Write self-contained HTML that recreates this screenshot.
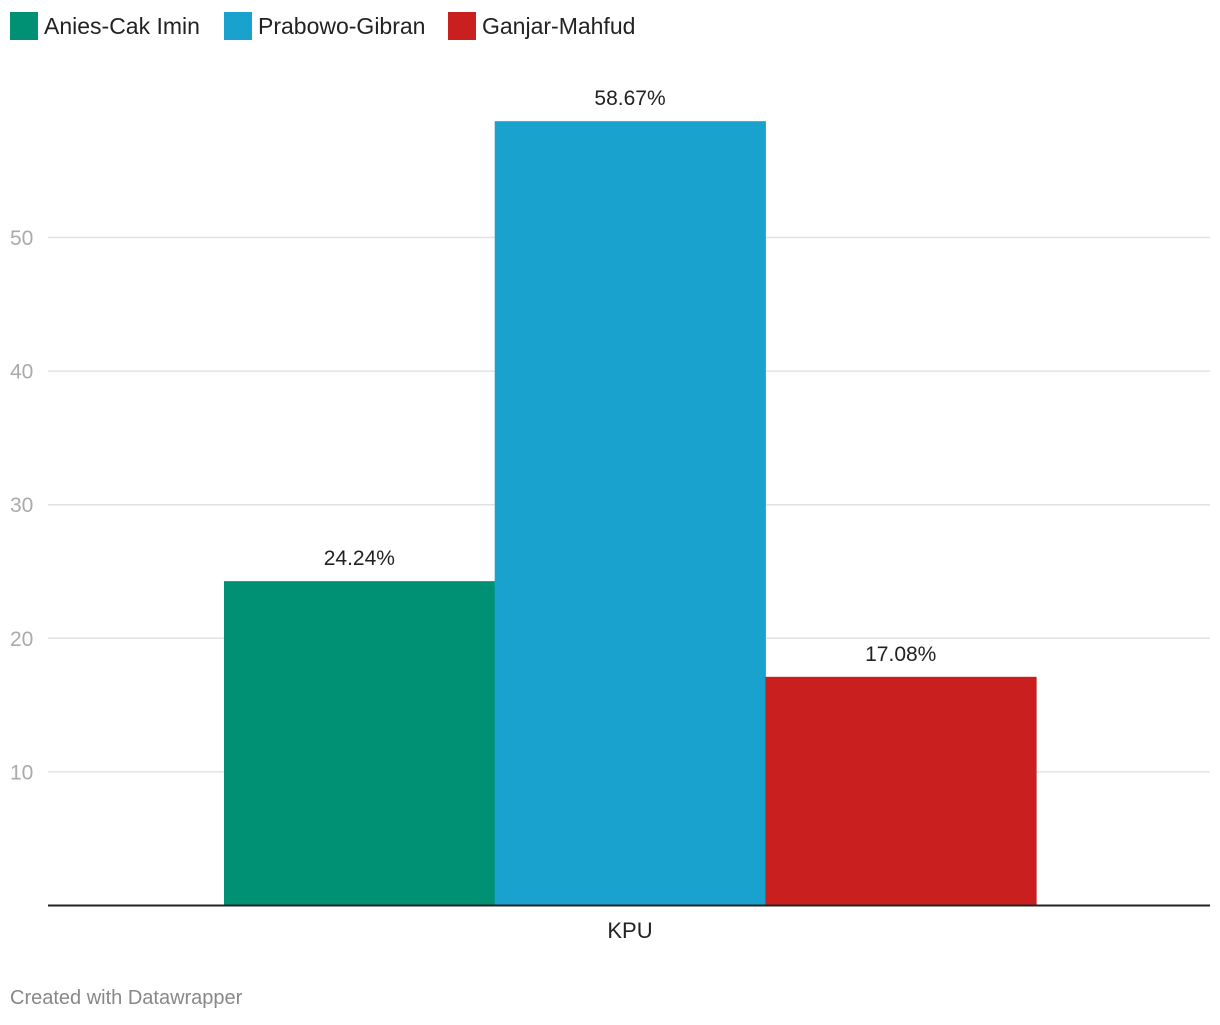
<!DOCTYPE html>
<html><head><meta charset="utf-8"><style>
body{margin:0;background:#fff;font-family:"Liberation Sans",sans-serif;}
svg text{font-family:"Liberation Sans",sans-serif;}
</style></head><body>
<svg width="1220" height="1020" xmlns="http://www.w3.org/2000/svg" id="chart">
<g>
<rect x="10" y="12" width="28" height="28" fill="#009175"/>
<text x="44" y="34" font-size="23" fill="#222">Anies-Cak Imin</text>
<rect x="224" y="12" width="28" height="28" fill="#1aa2cf"/>
<text x="258" y="34" font-size="23" fill="#222">Prabowo-Gibran</text>
<rect x="448" y="12" width="28" height="28" fill="#c91f1f"/>
<text x="482" y="34" font-size="23" fill="#222">Ganjar-Mahfud</text>
</g>
<g id="grid"></g>
<g id="bars"></g>
<line x1="48" x2="1210" y1="905.5" y2="905.5" stroke="#222" stroke-width="2"/>
<text x="630" y="938" font-size="22" fill="#222" text-anchor="middle">KPU</text>
<text x="10" y="1004" font-size="20" fill="#888">Created with Datawrapper</text>
</svg>
<script>
const categories = ["Anies-Cak Imin","Prabowo-Gibran","Ganjar-Mahfud"];
const values = [24.24, 58.67, 17.08];
const colors = ["#009175","#1aa2cf","#c91f1f"];
const ticks = [10,20,30,40,50];
const NS="http://www.w3.org/2000/svg";
const y = v => 905 - v*13.36;
const x0 = 224, bw = 270.7;
const grid=document.getElementById('grid');
ticks.forEach(t=>{
  const l=document.createElementNS(NS,'line');
  l.setAttribute('x1',48);l.setAttribute('x2',1210);
  l.setAttribute('y1',y(t)+0.5);l.setAttribute('y2',y(t)+0.5);
  l.setAttribute('stroke','#e2e2e2');l.setAttribute('stroke-width','1.5');
  
  
  grid.appendChild(l);
  const tx=document.createElementNS(NS,'text');
  tx.setAttribute('x',10);tx.setAttribute('y',y(t)+8);
  tx.setAttribute('font-size','21');tx.setAttribute('fill','#aaa');
  tx.textContent=t;
  
  
  grid.appendChild(tx);
});
const bars=document.getElementById('bars');
values.forEach((v,i)=>{
  const r=document.createElementNS(NS,'rect');
  r.setAttribute('x',x0+i*bw);r.setAttribute('width',bw+0.5);
  r.setAttribute('y',y(v));r.setAttribute('height',905-y(v));
  r.setAttribute('fill',colors[i]);
  
  
  bars.appendChild(r);
  const tx=document.createElementNS(NS,'text');
  tx.setAttribute('x',x0+i*bw+bw/2);tx.setAttribute('y',y(v)-16);
  tx.setAttribute('font-size','21');tx.setAttribute('fill','#222');
  tx.setAttribute('text-anchor','middle');
  tx.textContent=v.toFixed(2)+'%';
  
  
  bars.appendChild(tx);
});
</script>
</body></html>
